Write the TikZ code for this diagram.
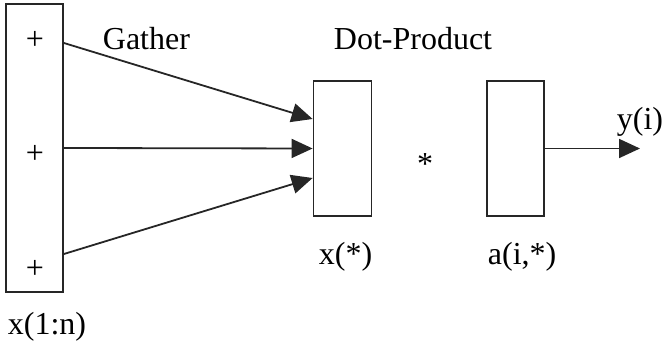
\documentclass[tikz,border=0pt]{standalone}
\usepackage{fontspec}
\setmainfont{Liberation Serif}
\usetikzlibrary{arrows.meta}
\begin{document}
\begin{tikzpicture}[x=0.5pt, y=-0.5pt, line width=0.9pt,
  every node/.style={font=\fontsize{16}{19}\selectfont, text=black, inner sep=0pt},
  vec/.style={draw=black!85, minimum width=29pt, minimum height=67.5pt},
  arr/.style={draw=black!85, -{Triangle[length=10.5pt,width=9.5pt]}}]
  \useasboundingbox (0,0) rectangle (665,346);
  % gathered vector
  \node[vec, minimum width=28.5pt, minimum height=144pt] (xn) at (34.5,148) {};
  \node[anchor=base] (p1) at (35,50) {+};
  \node[anchor=base] (p2) at (35,164) {+};
  \node[anchor=base] (p3) at (35,279) {+};
  \node[anchor=base west] (xlab) at (7,335) {x(1:n)};
  % dot product
  \node[vec] (xd) at (342.5,148.5) {};
  \node[vec, minimum width=28.5pt] (ai) at (515.5,148.5) {};
  \node[anchor=base] (star) at (425,175) {*};
  \node[anchor=base west] (xdlab) at (318,265) {x(*)};
  \node[anchor=base west] (ailab) at (487,265) {a(i,*)};
  \node[anchor=base west] (gat) at (102,50) {Gather};
  \node[anchor=base west] (dot) at (333,50) {Dot-Product};
  \node[anchor=base east] (ylab) at (664,130) {y(i)};
  \coordinate (out) at (640,148.5);
  \draw[arr] ([yshift=52.5pt]xn.east) -- ([yshift=14.75pt]xd.west);
  \draw[arr] (xn.east) -- (xd.west);
  \draw[arr] ([yshift=-53pt]xn.east) -- ([yshift=-14.75pt]xd.west);
  \draw[arr] (ai.east) -- (out);
\end{tikzpicture}
\end{document}
